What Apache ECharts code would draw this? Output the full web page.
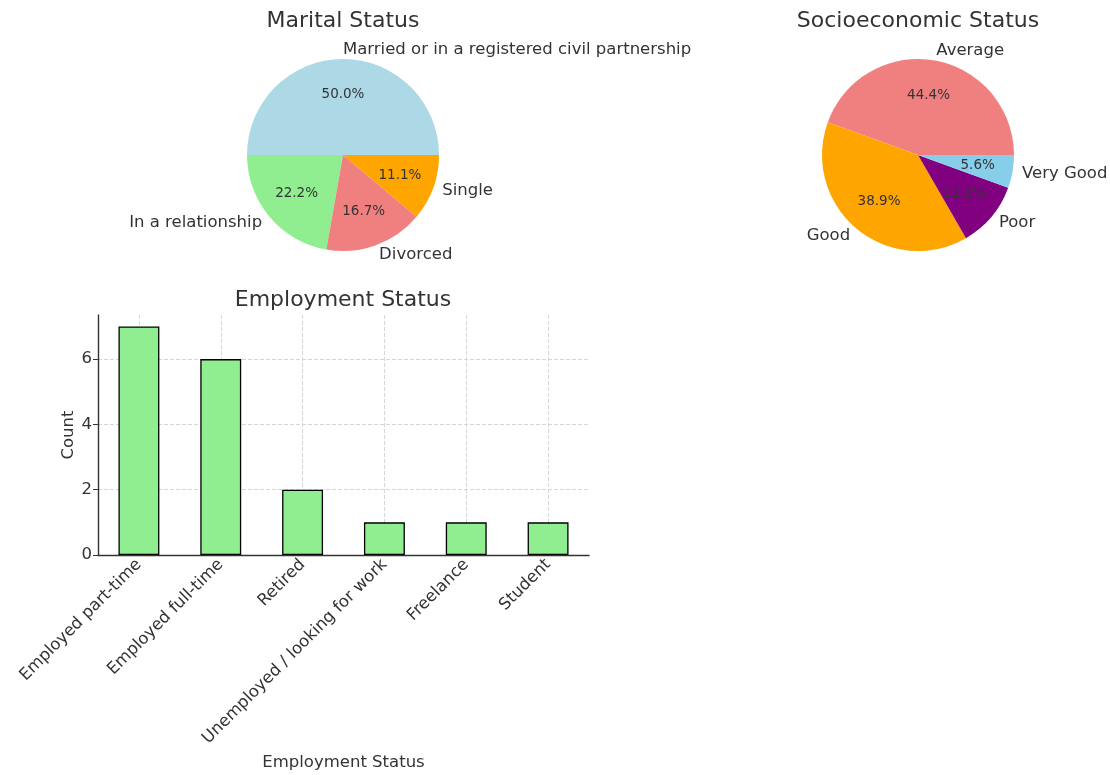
<!DOCTYPE html>
<html>
<head>
<meta charset="utf-8">
<script src="https://cdn.jsdelivr.net/npm/echarts@6/dist/echarts.min.js"></script>
<style>html,body{margin:0;padding:0;background:#fff}#c{width:1110px;height:775px}</style>
</head>
<body>
<div id="c"></div>
<script>
const maritalLabels = ['Married or in a registered civil partnership', 'In a relationship', 'Divorced', 'Single'];
const maritalCounts = [9, 4, 3, 2];
const maritalColors = ['#ADD8E6', '#90EE90', '#F08080', '#FFA500'];

const socioLabels = ['Average', 'Good', 'Poor', 'Very Good'];
const socioCounts = [8, 7, 2, 1];
const socioColors = ['#F08080', '#FFA500', '#800080', '#87CEEB'];

const employmentLabels = ['Employed part-time', 'Employed full-time', 'Retired', 'Unemployed / looking for work', 'Freelance', 'Student'];
const employmentCounts = [7, 6, 2, 1, 1, 1];
const yTicks = [0, 2, 4, 6];

const FONT = 'DejaVu Sans';
const TXT = '#333333';
const LBL = 16.5;

function pieData(labels, counts, colors) {
  return labels.map((n, i) => ({ name: n, value: counts[i], itemStyle: { color: colors[i] } }));
}
function total(a) { return a.reduce((s, v) => s + v, 0); }

function pieSeries(labels, counts, colors, center, r) {
  const tot = total(counts);
  return [
    {
      type: 'pie', center: center, radius: [0, r], startAngle: 0, clockwise: false,
      avoidLabelOverlap: false, silent: true, animation: false,
      itemStyle: { borderWidth: 0 },
      label: { show: true, position: 'outside', fontFamily: FONT, fontSize: LBL, color: TXT, distanceToLabelLine: 0 },
      labelLine: { show: false, length: r * 0.1, length2: 0 },
      data: pieData(labels, counts, colors)
    },
    {
      type: 'pie', center: center, radius: [r * 0.55, r * 0.65], startAngle: 0, clockwise: false,
      avoidLabelOverlap: false, silent: true, animation: false,
      itemStyle: { color: 'rgba(0,0,0,0)', borderWidth: 0 },
      label: { show: true, position: 'inside', fontFamily: FONT, fontSize: 13.5, color: TXT,
        formatter: p => (p.value / tot * 100).toFixed(1) + '%' },
      labelLine: { show: false },
      data: labels.map((n, i) => ({ name: n, value: counts[i] }))
    }
  ];
}

const titleStyle = { fontFamily: FONT, fontSize: 22, fontWeight: 'normal', color: TXT };

const chart = echarts.init(document.getElementById('c'));
chart.setOption({
  backgroundColor: '#ffffff',
  animation: false,
  textStyle: { fontFamily: FONT },
  title: [
    { text: 'Marital Status', left: 343, top: 10, padding: 0, textAlign: 'center', textStyle: titleStyle },
    { text: 'Socioeconomic Status', left: 918, top: 10, padding: 0, textAlign: 'center', textStyle: titleStyle },
    { text: 'Employment Status', left: 343, top: 289, padding: 0, textAlign: 'center', textStyle: titleStyle }
  ],
  grid: { left: 98, right: 521, top: 315, bottom: 220, containLabel: false },
  xAxis: {
    type: 'category', data: employmentLabels,
    name: 'Employment Status', nameLocation: 'middle', nameGap: 199,
    nameTextStyle: { fontFamily: FONT, fontSize: LBL, color: TXT },
    axisLine: { lineStyle: { color: '#333', width: 1.4 } },
    axisTick: { alignWithLabel: true, length: 5, lineStyle: { color: '#333' } },
    axisLabel: { rotate: 45, interval: 0, fontFamily: FONT, fontSize: LBL, color: TXT, margin: 7 },
    splitLine: { show: true, alignWithLabel: true, lineStyle: { color: '#cccccc', type: [4, 2], width: 0.8 } }
  },
  yAxis: {
    type: 'value', min: 0, max: 7.35, interval: 2,
    name: 'Count', nameLocation: 'middle', nameGap: 21,
    nameTextStyle: { fontFamily: FONT, fontSize: LBL, color: TXT },
    axisLine: { show: true, lineStyle: { color: '#333', width: 1.4 } },
    axisTick: { show: true, length: 5, lineStyle: { color: '#333' }, customValues: yTicks },
    axisLabel: { fontFamily: FONT, fontSize: LBL, color: TXT, margin: 6, customValues: yTicks },
    splitLine: { show: true, lineStyle: { color: '#cccccc', type: [4, 2], width: 0.8 } }
  },
  series: [
    ...pieSeries(maritalLabels, maritalCounts, maritalColors, [343, 155], 96),
    ...pieSeries(socioLabels, socioCounts, socioColors, [918, 155], 96),
    {
      type: 'bar', data: employmentCounts, barWidth: '50%',
      itemStyle: { color: '#90EE90', borderColor: '#000', borderWidth: 1.3 },
      silent: true
    }
  ]
});
</script>
</body>
</html>
